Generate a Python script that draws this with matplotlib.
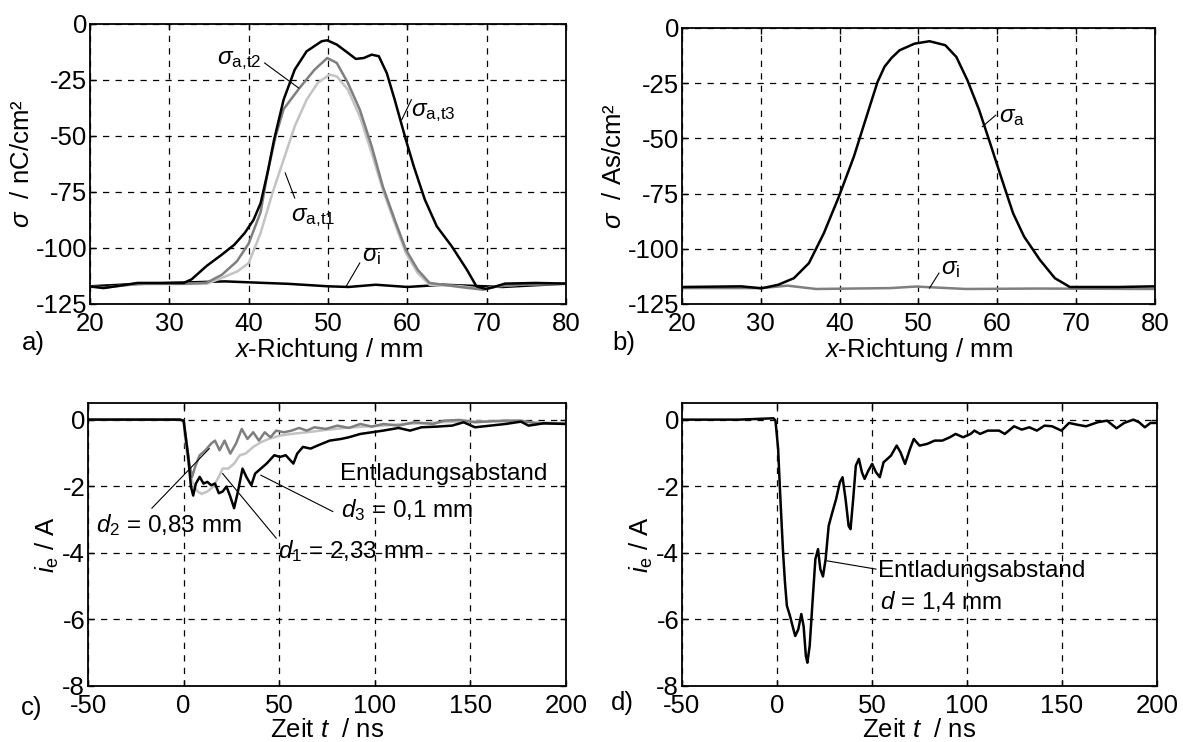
import matplotlib
matplotlib.use('Agg')
import matplotlib.pyplot as plt

plt.rcParams['font.family'] = ['Liberation Sans', 'DejaVu Sans']
plt.rcParams['mathtext.fontset'] = 'custom'
plt.rcParams['mathtext.rm'] = 'Liberation Sans'
plt.rcParams['mathtext.it'] = 'Liberation Sans:italic'
plt.rcParams['mathtext.bf'] = 'Liberation Sans:bold'
plt.rcParams['axes.unicode_minus'] = False

# ---- panel a: surface charge along x, three times + initial ----
xa_t3 = [20, 21.7, 26, 31.8, 32.8, 34.7, 36.6, 38.2, 39.5, 40.6, 41.5, 42.4, 43.2, 44.4, 45.8, 47.3,
         49.2, 49.9, 51.1, 52.5, 53.5, 54.5, 55.5, 56.4, 57.4, 58.4, 59.8, 60.8, 62.2, 63.7, 65.6,
         67.5, 68.7, 69.9, 70.9, 72.3, 76.2, 80]
ya_t3 = [-117.1, -117.9, -115.6, -115.6, -114, -108, -103, -98.5, -93.3, -87.5, -80, -66, -51.6,
         -33.8, -20.4, -12.2, -7.7, -7.3, -9.2, -12.9, -15.6, -15.2, -13.7, -14.4, -21.9, -33.8,
         -51.6, -63.5, -78.4, -90.3, -99.3, -109.7, -117.1, -118.3, -117.4, -115.9, -115.6, -115.9]

xa_t2 = [20, 22, 26, 32, 34.7, 36.6, 38.5, 40, 41.5, 42.4, 43.4, 44.4, 46.4, 48.3, 49.9, 51.1, 52.5,
         54, 55.5, 56.9, 58.4, 59.8, 61.3, 62.8, 66.6, 69.5, 71.4, 75, 80]
ya_t2 = [-117.3, -117.6, -116, -116, -115.5, -112, -106, -98, -84, -66, -50, -38, -28.6, -20.4,
         -15.2, -17.4, -26.3, -38.2, -54.6, -72.5, -87.4, -100.7, -109.7, -115.6, -117.4, -118.6,
         -117.1, -116.2, -116]

xa_t1 = [20, 22, 26, 32, 34.7, 36.6, 38.6, 40, 41.5, 43, 44.4, 45.8, 47.3, 48.7, 50.2, 51.1, 52.5,
         54, 55.5, 56.9, 58.4, 59.8, 61.3, 62.8, 66.6, 69.5, 71.4, 75, 80]
ya_t1 = [-117.3, -117.6, -116, -116, -116, -113.4, -110.4, -106.7, -93.3, -75.4, -60.6, -45.7,
         -33.8, -26.3, -22.6, -23.4, -29.3, -41.2, -57.6, -74, -88.8, -102.2, -111.2, -116.4,
         -117, -118.3, -117, -116.2, -116]

xa_i = [20, 25, 30, 37, 42, 45, 50, 52.6, 56, 60, 64.5, 72, 80]
ya_i = [-117.1, -116.2, -115.6, -114.9, -115.6, -116, -117.1, -117.4, -116.4, -117.4, -116.4, -117.4, -115.9]

# ---- panel b ----
xb_a = [20, 27.5, 30.1, 32.2, 34.2, 36.1, 38, 39.9, 41.8, 43.8, 44.8, 45.7, 46.6, 47.6, 49.5, 51.4,
        53.4, 54.8, 56.2, 57.7, 59.1, 60.6, 62, 63.4, 65.4, 67.3, 69.2, 75.4, 80]
yb_a = [-117.3, -117, -117.9, -116.3, -113.3, -106.5, -92.9, -76.4, -58.3, -35.7, -24.5, -17.5,
        -13.5, -10.1, -7.1, -6.0, -7.8, -13.1, -23.6, -37.2, -52.3, -68.8, -83.9, -94.5, -105,
        -113.3, -117.3, -117.3, -117]
xb_i = [20, 30, 33.4, 37, 46.4, 49.7, 56, 65, 80]
yb_i = [-117.8, -117.8, -116.7, -118.2, -117.8, -117.1, -118.2, -118.0, -118.2]

# ---- panel c: discharge current, three gaps ----
tc_d3 = [-50, -2, 0, 2.4, 3.8, 5, 6.4, 8.4, 10.4, 12.4, 14.4, 16.4, 18.4, 20.4, 22.4, 24.4, 26.4,
         28.4, 30.8, 32.8, 35.4, 37.4, 40.4, 43.4, 47.4, 50.4, 53.4, 57.4, 59.4, 62.4, 66.4, 70.4,
         76.4, 82.4, 86.4, 92.4, 98.4, 104.4, 112.4, 118.4, 124.4, 132.4, 140.4, 146.4, 152.4,
         160.4, 168.4, 176.4, 180.4, 188.4, 200]
ic_d3 = [0, 0, -0.03, -1.12, -2.0, -2.28, -1.92, -1.72, -1.92, -1.87, -1.97, -1.92, -2.21, -2.16,
         -2.01, -2.31, -2.66, -2.16, -1.47, -1.72, -1.97, -1.62, -1.47, -1.32, -1.07, -1.12, -1.07,
         -1.32, -1.02, -0.82, -0.87, -0.77, -0.63, -0.58, -0.53, -0.43, -0.38, -0.33, -0.25, -0.33,
         -0.23, -0.21, -0.18, -0.08, -0.23, -0.18, -0.13, -0.06, -0.18, -0.11, -0.13]

tc_d2 = [-50, -2, 0, 1.4, 3, 4.4, 6, 8.4, 11.4, 14.4, 16.4, 18.8, 21.4, 24.4, 27.4, 30.4, 33.4,
         36.4, 39.4, 42.4, 45.4, 48.4, 52.4, 56.4, 60.4, 64.4, 68.4, 74.4, 80.4, 86.4, 92.4, 98.4,
         104.4, 112.4, 120.4, 130.4, 136.4, 144.4, 152.4, 160.4, 168.4, 176.4, 184.4, 200]
ic_d2 = [0, 0, -0.03, -0.63, -1.32, -1.72, -1.42, -1.07, -0.92, -0.72, -0.63, -0.92, -0.63, -1.02,
         -0.72, -0.28, -0.58, -0.38, -0.63, -0.38, -0.53, -0.33, -0.38, -0.33, -0.25, -0.33, -0.23,
         -0.28, -0.18, -0.25, -0.13, -0.21, -0.13, -0.18, -0.08, -0.13, -0.03, -0.01, -0.08, -0.05,
         -0.03, -0.03, -0.11, -0.13]

tc_d1 = [-50, -2, 0, 1.4, 3.4, 5.4, 7.4, 9.4, 12.4, 15.4, 18.4, 20.4, 23.4, 26.4, 29.4, 32.4, 36.4,
         40.4, 44.4, 50.4, 56.4, 64.4, 74.4, 84.4, 94.4, 104.4, 114.4, 124.4, 134.4, 144.4, 164.4,
         184.4, 200]
ic_d1 = [0, 0, -0.03, -0.9, -1.62, -2.02, -2.16, -2.23, -2.16, -2.02, -1.72, -1.47, -1.47, -1.32,
         -1.07, -1.02, -0.82, -0.68, -0.58, -0.48, -0.43, -0.38, -0.31, -0.25, -0.21, -0.18, -0.13,
         -0.11, -0.08, -0.06, -0.05, -0.08, -0.11]

# ---- panel d ----
td = [-50, -20, -1.8, -0.8, 0.6, 1.8, 3.2, 4.2, 5.2, 6.8, 8.2, 9.6, 11.2, 12.8, 14, 15.2, 16, 17.2,
      18.8, 20.2, 21.6, 22.8, 24.2, 25.6, 27.2, 29.1, 31.1, 33.1, 34.5, 36.1, 37.7, 38.7, 40.1,
      41.5, 43.1, 44.7, 46.1, 48.1, 50.1, 52.1, 54.1, 56.1, 58.1, 60, 63, 65, 67.4, 70, 72, 75, 79,
      83, 87, 91, 94, 98, 101.9, 103.9, 106.9, 110.9, 116.9, 119.9, 124.8, 128.8, 132.8, 136.8,
      140.8, 144.8, 149.7, 153.7, 158.7, 162.7, 168.7, 173.7, 178.7, 182.7, 187.6, 190.6, 193.6,
      196.6, 200]
id_ = [0, 0, 0.04, -0.03, -0.88, -2.39, -3.99, -4.89, -5.59, -5.89, -6.2, -6.5, -6.3, -5.84, -6.2,
       -7.1, -7.3, -6.8, -5.39, -4.19, -3.89, -4.49, -4.71, -4.19, -3.19, -2.79, -2.39, -1.88,
       -1.73, -2.39, -3.19, -3.29, -2.39, -1.38, -1.18, -1.58, -1.78, -1.53, -1.33, -1.58, -1.73,
       -1.28, -1.18, -1.08, -0.78, -0.98, -1.33, -0.88, -0.58, -0.78, -0.73, -0.63, -0.63, -0.53,
       -0.43, -0.53, -0.43, -0.33, -0.43, -0.33, -0.33, -0.43, -0.2, -0.3, -0.23, -0.33, -0.18,
       -0.2, -0.33, -0.1, -0.16, -0.2, -0.08, -0.03, -0.26, -0.1, 0.0, -0.08, -0.23, -0.1, -0.1]

BLACK = '#000000'
DGRAY = '#7f7f7f'
LGRAY = '#c3c3c3'
TICK_FS = 18.5
LAB_FS = 18.5
ANN_FS = 17.5
LW = 1.8


def style(ax, xlim, ylim, xticks, yticks):
    ax.set_xlim(*xlim)
    ax.set_ylim(*ylim)
    ax.set_xticks(xticks)
    ax.set_yticks(yticks)
    ax.tick_params(direction='in', length=4, width=1, labelsize=TICK_FS,
                   top=True, right=True)
    ax.tick_params(axis='x', pad=6)
    ax.tick_params(axis='y', pad=2)
    ax.grid(True, color='black', linestyle=(0, (5, 5)), linewidth=0.9)
    for s in ax.spines.values():
        s.set_linewidth(1.3)


def leader(ax, p0, p1):
    ax.plot([p0[0], p1[0]], [p0[1], p1[1]], color='black', lw=0.8, zorder=5)


fig = plt.figure(figsize=(11.83, 7.42), dpi=100)
ax_a = fig.add_axes([0.0761, 0.5903, 0.4024, 0.3774])
ax_b = fig.add_axes([0.5765, 0.5903, 0.3998, 0.3720])
ax_c = fig.add_axes([0.0744, 0.0755, 0.4041, 0.3814])
ax_d = fig.add_axes([0.5765, 0.0755, 0.4015, 0.3814])

# a)
ax_a.plot(xa_i, ya_i, color=BLACK, lw=LW)
ax_a.plot(xa_t1, ya_t1, color=LGRAY, lw=LW)
ax_a.plot(xa_t2, ya_t2, color=DGRAY, lw=LW)
ax_a.plot(xa_t3, ya_t3, color=BLACK, lw=LW)
style(ax_a, (20, 80), (-125, 0), range(20, 81, 10), range(-125, 1, 25))
ax_a.set_xlabel(r'$x$-Richtung / mm', fontsize=LAB_FS, labelpad=0)
ax_a.set_ylabel(r'$\sigma$  / nC/cm²', fontsize=LAB_FS, labelpad=1)
ax_a.text(41.6, -16.5, r'$\sigma_\mathrm{a,\!t2}$', fontsize=ANN_FS, ha='right', va='center')
leader(ax_a, (42.0, -17.4), (46.3, -28.6))
ax_a.text(60.5, -39.5, r'$\sigma_\mathrm{a,\!t3}$', fontsize=ANN_FS, ha='left', va='center')
leader(ax_a, (60.5, -33.8), (59.3, -42.7))
ax_a.text(45.3, -86.5, r'$\sigma_\mathrm{a,\!t1}$', fontsize=ANN_FS, ha='left', va='center')
leader(ax_a, (45.8, -77.7), (44.6, -66.5))
ax_a.text(54.3, -103.5, r'$\sigma_\mathrm{i}$', fontsize=ANN_FS, ha='left', va='center')
leader(ax_a, (54.0, -106.7), (52.3, -117.0))
fig.text(0.028, 0.538, 'a)', fontsize=LAB_FS, ha='center', va='center')

# b)
ax_b.plot(xb_i, yb_i, color=DGRAY, lw=LW)
ax_b.plot(xb_a, yb_a, color=BLACK, lw=LW)
style(ax_b, (20, 80), (-125, 0), range(20, 81, 10), range(-125, 1, 25))
ax_b.set_xlabel(r'$x$-Richtung / mm', fontsize=LAB_FS, labelpad=0)
ax_b.set_ylabel(r'$\sigma$  / As/cm²', fontsize=LAB_FS, labelpad=1)
ax_b.text(60.2, -40.5, r'$\sigma_\mathrm{a}$', fontsize=ANN_FS, ha='left', va='center')
leader(ax_b, (59.8, -39.5), (58.1, -44.7))
ax_b.text(52.9, -109.0, r'$\sigma_\mathrm{i}$', fontsize=ANN_FS, ha='left', va='center')
leader(ax_b, (52.6, -111.0), (51.4, -117.8))
fig.text(0.527, 0.538, 'b)', fontsize=LAB_FS, ha='center', va='center')

# c)
ax_c.plot(tc_d1, ic_d1, color=LGRAY, lw=LW)
ax_c.plot(tc_d2, ic_d2, color=DGRAY, lw=LW)
ax_c.plot(tc_d3, ic_d3, color=BLACK, lw=LW)
style(ax_c, (-50, 200), (-8, 0.5), range(-50, 201, 50), range(-8, 1, 2))
ax_c.set_xlabel(r'Zeit $t$  / ns', fontsize=LAB_FS, labelpad=0)
ax_c.set_ylabel(r'$i_\mathrm{e}$ / A', fontsize=LAB_FS, labelpad=1)
ax_c.text(81.8, -1.62, 'Entladungsabstand', fontsize=ANN_FS, ha='left', va='center')
ax_c.text(82.4, -2.72, r'$d_3$ = 0,1 mm', fontsize=ANN_FS, ha='left', va='center')
leader(ax_c, (78.0, -2.76), (40.4, -1.67))
ax_c.text(-45.6, -3.17, r'$d_2$ = 0,83 mm', fontsize=ANN_FS, ha='left', va='center')
leader(ax_c, (-16.6, -2.66), (13.4, -0.87))
ax_c.text(49.4, -3.95, r'$d_1$ = 2,33 mm', fontsize=ANN_FS, ha='left', va='center')
leader(ax_c, (48.4, -3.56), (20.4, -1.62))
fig.text(0.027, 0.046, 'c)', fontsize=LAB_FS, ha='center', va='center')

# d)
ax_d.plot(td, id_, color=BLACK, lw=LW)
style(ax_d, (-50, 200), (-8, 0.5), range(-50, 201, 50), range(-8, 1, 2))
ax_d.set_xlabel(r'Zeit $t$  / ns', fontsize=LAB_FS, labelpad=0)
ax_d.set_ylabel(r'$i_\mathrm{e}$ / A', fontsize=LAB_FS, labelpad=1)
ax_d.text(53.1, -4.54, 'Entladungsabstand', fontsize=ANN_FS, ha='left', va='center')
ax_d.text(54.0, -5.47, r'$d$ = 1,4 mm', fontsize=ANN_FS, ha='left', va='center')
leader(ax_d, (52.1, -4.49), (26.2, -4.24))
fig.text(0.526, 0.052, 'd)', fontsize=LAB_FS, ha='center', va='center')

fig.savefig('out.png', dpi=100)
